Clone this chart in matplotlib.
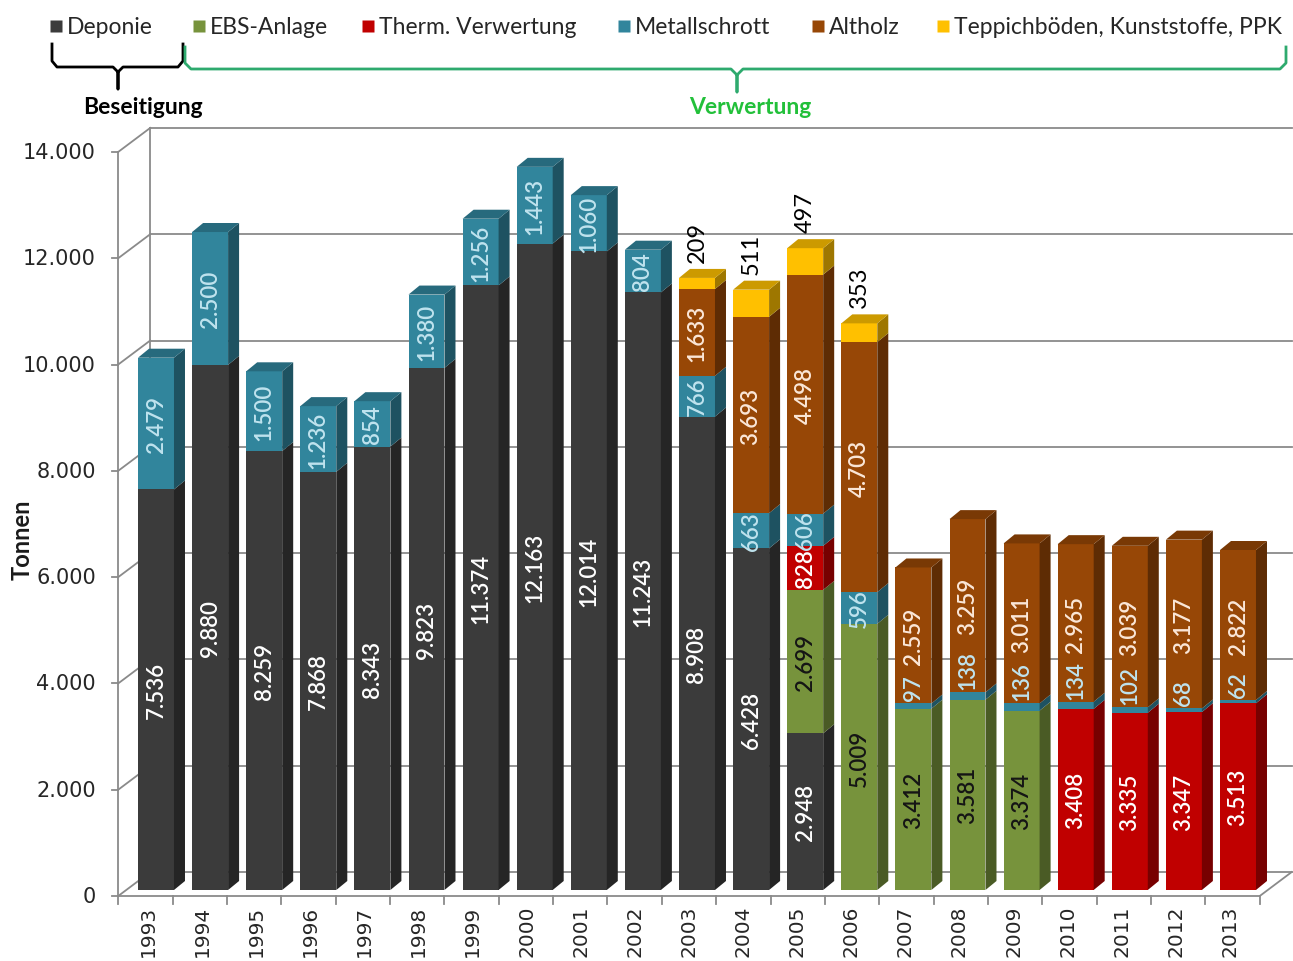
import matplotlib.pyplot as plt
from matplotlib.patches import Polygon
from matplotlib.colors import to_rgb
import numpy as np

years = [str(y) for y in range(1993, 2014)]

deponie = [7536, 9880, 8259, 7868, 8343, 9823, 11374, 12163, 12014, 11243,
           8908, 6428, 2948, 0, 0, 0, 0, 0, 0, 0, 0]
ebs = [0, 0, 0, 0, 0, 0, 0, 0, 0, 0, 0, 0, 2699, 5009, 3412, 3581, 3374, 0, 0, 0, 0]
therm = [0, 0, 0, 0, 0, 0, 0, 0, 0, 0, 0, 0, 828, 0, 0, 0, 0, 3408, 3335, 3347, 3513]
metall = [2479, 2500, 1500, 1236, 854, 1380, 1256, 1443, 1060, 804,
          766, 663, 606, 596, 97, 138, 136, 134, 102, 68, 62]
altholz = [0, 0, 0, 0, 0, 0, 0, 0, 0, 0,
           1633, 3693, 4498, 4703, 2559, 3259, 3011, 2965, 3039, 3177, 2822]
teppich = [0, 0, 0, 0, 0, 0, 0, 0, 0, 0, 209, 511, 497, 353, 0, 0, 0, 0, 0, 0, 0]

y_ticks = [0, 2000, 4000, 6000, 8000, 10000, 12000, 14000]

# series: name, values, face colour, label colour
series = [
    ('Deponie', deponie, '#3b3b3b', 'white'),
    ('EBS-Anlage', ebs, '#77933c', '#151515'),
    ('Therm. Verwertung', therm, '#c00000', 'white'),
    ('Metallschrott', metall, '#31859c', '#bfe3ee'),
    ('Altholz', altholz, '#974706', '#fbe7d8'),
    ('Teppichböden, Kunststoffe, PPK', teppich, '#ffc000', 'black'),
]

# pixel geometry of the picture (bar front plane)
PXX = 54.1        # px per category
PXY = 0.05315     # px per tonne
X0, Y0 = 156, 891


def dx(px):
    return (px - X0) / PXX


def dy(py):
    return (Y0 - py) / PXY


def shade(c, f):
    return tuple(min(1, ch * f) for ch in to_rgb(c))


W = 0.665                     # bar width
BDX, BDY = 11 / PXX, 9 / PXY  # bar depth
FX, FY = -8 / PXX, -6 / PXY   # front plane offset
BX, BY = 24 / PXX, 18 / PXY   # back wall offset
XL, XR = -0.55, 20.55

fig = plt.figure(figsize=(12.93, 9.62), dpi=100)
ax = fig.add_axes([0, 0, 1, 1])
ax.set_xlim(dx(0), dx(1293))
ax.set_ylim(dy(962), dy(0))
ax.axis('off')

grid_c = '#8a8a8a'
# back wall, side wall, floor
for v in y_ticks:
    ax.plot([XL + BX, XR + BX], [v + BY, v + BY], color=grid_c, lw=1.3, zorder=1)
    ax.plot([XL + FX, XL + BX], [v + FY, v + BY], color=grid_c, lw=1.3, zorder=1)
    ax.plot([XL + FX - 0.11, XL + FX], [v + FY, v + FY], color=grid_c, lw=1.3, zorder=1)
    ax.text(dx(96), v + FY, f'{v:,}'.replace(',', '.'), ha='right', va='center',
            fontsize=15, color='#262626')
ax.plot([XL + BX, XL + BX], [BY, y_ticks[-1] + BY], color=grid_c, lw=1.3, zorder=1)
ax.plot([XL + FX, XL + FX], [FY, y_ticks[-1] + FY], color=grid_c, lw=1.3, zorder=1)
ax.plot([XL + FX, XR + FX, XR + BX], [FY, FY, BY], color=grid_c, lw=1.3, zorder=1)
for t in np.linspace(XL, XR, len(years) + 1):
    ax.plot([t + FX, t + FX], [FY, FY - 8 / PXY], color=grid_c, lw=1.3, zorder=1)

x = np.arange(len(years))
for i, yr in enumerate(years):
    ax.text(i + FX, FY - 9 / PXY, yr, rotation=90, ha='center', va='top',
            fontsize=14.5, color='#262626')

bottom = np.zeros(len(years))
tops = np.array([sum(s[1][i] for s in series) for i in range(len(years))])
for name, vals, col, lcol in series:
    vals = np.array(vals, dtype=float)
    ax.bar(x, vals, W, bottom=bottom, color=col, zorder=3, linewidth=0)
    for i in range(len(years)):
        if vals[i] <= 0:
            continue
        b, t = bottom[i], bottom[i] + vals[i]
        xr = i + W / 2
        ax.add_patch(Polygon([(xr, b), (xr + BDX, b + BDY), (xr + BDX, t + BDY), (xr, t)],
                             closed=True, fc=shade(col, 0.62), ec='none', zorder=3))
        if abs(t - tops[i]) < 1e-6:
            xl = i - W / 2
            ax.add_patch(Polygon([(xl, t), (xl + BDX, t + BDY), (xr + BDX, t + BDY), (xr, t)],
                                 closed=True, fc=shade(col, 0.8), ec='none', zorder=3))
        lab = f'{int(vals[i]):,}'.replace(',', '.')
        if name.startswith('Teppich'):
            ax.text(i, t + BDY + 130, lab, rotation=90, ha='center', va='bottom',
                    fontsize=17, color=lcol, family='Lato', zorder=5)
        elif vals[i] < 300:
            ax.text(i, t + 60, lab, rotation=90, ha='center', va='bottom',
                    fontsize=16, color=lcol, family='Lato', fontweight='semibold', zorder=5)
        else:
            ax.text(i, (b + t) / 2, lab, rotation=90, ha='center', va='center',
                    fontsize=16, color=lcol, family='Lato', fontweight='semibold', zorder=5)
    bottom += vals

ax.text(dx(22), dy(540), 'Tonnen', rotation=90, ha='center', va='center',
        fontsize=17, fontweight='bold', family='Lato', color='#1a1a1a')

# legend
leg_x = [50, 193, 362, 618, 812, 937]
for (name, vals, col, lcol), lx in zip(series, leg_x):
    ax.plot(dx(lx + 6), dy(27), marker='s', ms=9, color=col, mec='none')
    ax.text(dx(lx + 17), dy(27), name, ha='left', va='center',
            fontsize=16.5, family='Lato', color='#262626')

# brackets
bx = [52, 52, 57, 113, 118, 118, 118, 123, 178, 183, 183]
by = [45, 62, 68, 68, 73, 90, 73, 68, 68, 62, 45]
ax.plot([dx(p) for p in bx], [dy(p) for p in by], color='black', lw=2)
gx = [185, 185, 191, 731, 737, 737, 737, 743, 1280, 1286, 1286]
gy = [48, 64, 70, 70, 76, 93, 76, 70, 70, 64, 48]
ax.plot([dx(p) for p in gx], [dy(p) for p in gy], color='#2eaa6e', lw=2)
ax.text(dx(143), dy(107), 'Beseitigung', ha='center', va='center',
        fontsize=16.5, fontweight='bold', family='Lato', color='black')
ax.text(dx(750), dy(107), 'Verwertung', ha='center', va='center',
        fontsize=16.5, fontweight='bold', family='Lato', color='#22c03a')

plt.savefig('out.png', dpi=100)
